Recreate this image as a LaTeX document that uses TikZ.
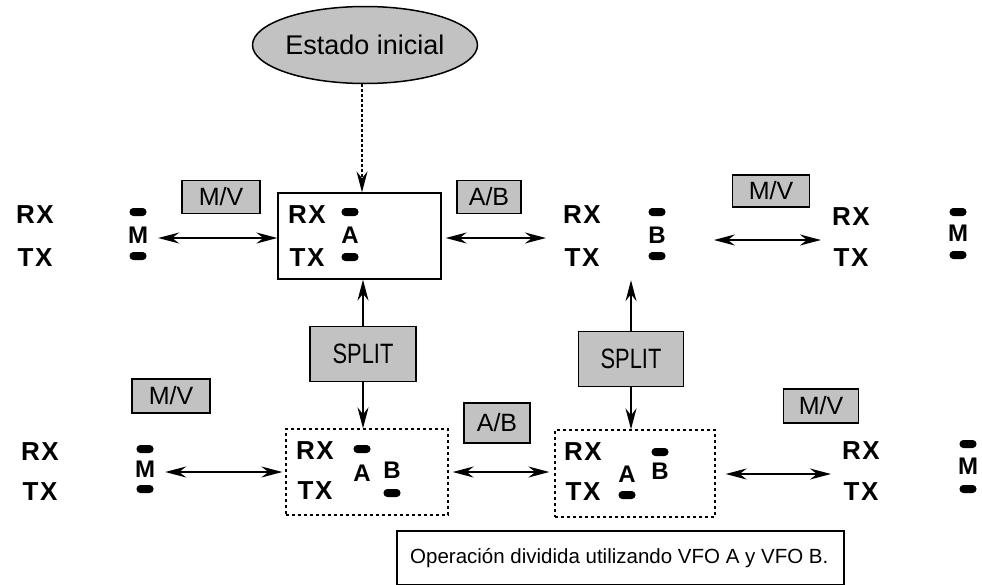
\documentclass[tikz,border=0pt]{standalone}
\usepackage{fontspec}
\setmainfont{Liberation Sans}
\newfontfamily\narrowf[FakeStretch=0.78]{Liberation Sans}
\newfontfamily\dinf[LetterSpace=6]{Liberation Sans}
\usetikzlibrary{arrows.meta,shapes.geometric}
\begin{document}
\begin{tikzpicture}[x=1pt,y=-1pt,
  lbl/.style={font=\dinf\bfseries\fontsize{26}{26}\selectfont, inner sep=0},
  ltr/.style={font=\bfseries\fontsize{24}{24}\selectfont, inner sep=0},
  barn/.style={fill=black, rounded corners=3.8pt, minimum width=17pt, minimum height=8pt, inner sep=0},
  key/.style={draw, line width=1.5pt, fill=black!24, font=\fontsize{25}{25}\selectfont, inner sep=0},
  splitkey/.style={key, font=\narrowf\fontsize{28}{28}\selectfont},
  state/.style={draw, line width=1.3pt, inner sep=0},
  dstate/.style={draw, line width=1.3pt, inner sep=0, dash pattern=on 3pt off 3pt},
  dbl/.style={{Stealth[length=21pt,width=11pt,inset=7pt]}-{Stealth[length=21pt,width=11pt,inset=7pt]}, line width=1.9pt},
  sarr/.style={-{Stealth[length=21pt,width=11pt,inset=7pt]}, line width=1.9pt},
]
\useasboundingbox (0,0) rectangle (982,584);

% initial state
\node[ellipse, draw, line width=1.5pt, fill=black!24, minimum width=216pt, minimum height=77pt, inner sep=0,
      font=\fontsize{27}{27}\selectfont] (ini) at (365,45) {Estado inicial};

% ---------- top row ----------
\node[lbl] (rx1) at (35,215) {RX};
\node[lbl] (tx1) at (35,258) {TX};
\node[barn] (b1a) at (138,212) {};
\node[ltr] (m1) at (138,235) {M};
\node[barn] (b1b) at (138,256) {};
\node[key, minimum width=78pt, minimum height=33pt] (mv1) at (221,197) {M/V};

\node[state, minimum width=163pt, minimum height=86pt] (boxA) at (359.5,236) {};
\node[lbl] (rx2) at (307,215) {RX};
\node[lbl] (tx2) at (307,258) {TX};
\node[barn] (b2a) at (350,212) {};
\node[ltr] (a2) at (350,235) {A};
\node[barn] (b2b) at (350,257) {};

\node[key, minimum width=64pt, minimum height=33pt] (ab1) at (489,197) {A/B};

\node[lbl] (rx3) at (582,215) {RX};
\node[lbl] (tx3) at (582,258) {TX};
\node[barn] (b3a) at (657,212) {};
\node[ltr] (bb3) at (657,235) {B};
\node[barn] (b3b) at (657,256) {};

\node[key, minimum width=77pt, minimum height=32pt] (mv2) at (771,191) {M/V};

\node[lbl] (rx4) at (851,217) {RX};
\node[lbl] (tx4) at (851,258) {TX};
\node[barn] (b4a) at (958,212) {};
\node[ltr] (m4) at (958,233) {M};
\node[barn] (b4b) at (958,255) {};

% ---------- split keys ----------
\node[splitkey, minimum width=106pt, minimum height=55pt] (sp1) at (363,354) {SPLIT};
\node[splitkey, minimum width=105pt, minimum height=55pt] (sp2) at (631,359) {SPLIT};

% ---------- bottom row ----------
\node[lbl] (rx5) at (40,452) {RX};
\node[lbl] (tx5) at (40,492) {TX};
\node[barn] (b5a) at (145,449) {};
\node[ltr] (m5) at (145,469) {M};
\node[barn] (b5b) at (145,489) {};
\node[key, minimum width=78pt, minimum height=34pt] (mv3) at (171,396) {M/V};

\node[dstate, minimum width=162pt, minimum height=86pt] (box1) at (367,472) {};
\node[lbl] (rx6) at (315,451) {RX};
\node[lbl] (tx6) at (315,491) {TX};
\node[barn] (b6a) at (362,449) {};
\node[ltr] (a6) at (362,473) {A};
\node[ltr] (bb6) at (392,470) {B};
\node[barn] (b6b) at (392,493) {};

\node[key, minimum width=66pt, minimum height=40pt] (ab2) at (497,423) {A/B};

\node[dstate, minimum width=160pt, minimum height=87pt] (box2) at (635,473.5) {};
\node[lbl] (rx7) at (583,452) {RX};
\node[lbl] (tx7) at (583,492) {TX};
\node[ltr] (a7) at (627,474) {A};
\node[barn] (b7b) at (627,495) {};
\node[ltr] (bb7) at (660,471) {B};
\node[barn] (b7a) at (660,452) {};

\node[key, minimum width=75pt, minimum height=34pt] (mv4) at (821,406) {M/V};

\node[lbl] (rx8) at (861,451) {RX};
\node[lbl] (tx8) at (861,492) {TX};
\node[barn] (b8a) at (968,444) {};
\node[ltr] (m8) at (968,466) {M};
\node[barn] (b8b) at (968,489) {};

% caption
\node[draw, line width=1.2pt, minimum width=447pt, minimum height=54pt, inner sep=0] (cap) at (620.5,558) {};
\node[font=\fontsize{20.5}{20.5}\selectfont, inner sep=0, anchor=west] (capt) at (410,558) {Operación dividida utilizando VFO A y VFO B.};

% ---------- connectors ----------
\draw[sarr, line width=1.5pt, densely dashed] (ini.south -| 362,0) -- (362,0 |- boxA.north);

\draw[dbl] ([xshift=10pt]m1.east |- 0,238) -- (boxA.west |- 0,238);
\draw[dbl] ([xshift=4pt]boxA.east |- 0,238) -- ([xshift=-17pt]rx3.west |- 0,238);
\draw[dbl] ([xshift=48pt]bb3.east |- 0,240) -- ([xshift=-11pt]rx4.west |- 0,240);

\draw[sarr] (sp1.north) -- (sp1.north |- boxA.south);
\draw[sarr] (sp1.south) -- (sp1.south |- box1.north);
\draw[sarr] (sp2.north) -- ([yshift=-20pt]sp2.north |- b3b.south);
\draw[sarr] (sp2.south) -- (sp2.south |- box2.north);

\draw[dbl] ([xshift=10pt]m5.east |- 0,472) -- ([xshift=-3pt]box1.west |- 0,472);
\draw[dbl] ([xshift=4pt]box1.east |- 0,472) -- ([xshift=-5pt]box2.west |- 0,472);
\draw[dbl] ([xshift=10pt]box2.east |- 0,474) -- ([xshift=-11pt]rx8.west |- 0,474);
\end{tikzpicture}
\end{document}
